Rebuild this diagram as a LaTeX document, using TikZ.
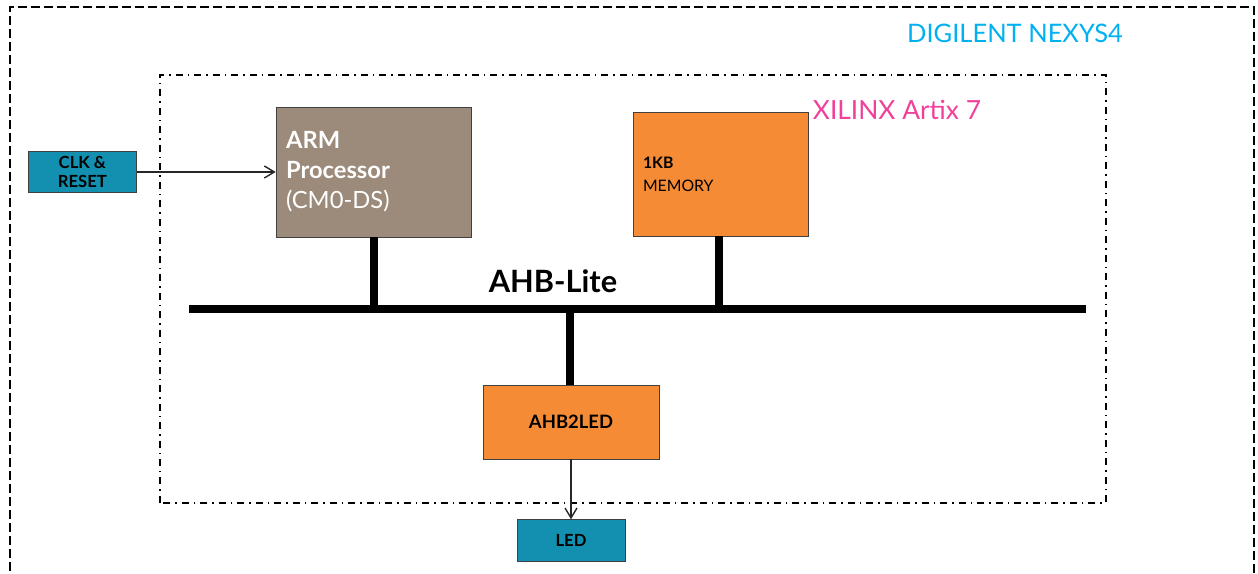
\documentclass[tikz,border=0pt]{standalone}
\usepackage{fontspec}
\setmainfont{Lato}
\usepackage{xcolor}
\usetikzlibrary{arrows.meta, positioning, calc}

\definecolor{armbrown}{HTML}{9C8A7A}
\definecolor{blockorange}{HTML}{F58B34}
\definecolor{ioteal}{HTML}{138FAF}
\definecolor{boardcyan}{HTML}{00B0F0}
\definecolor{fpgapink}{HTML}{F0409A}

\begin{document}
\begin{tikzpicture}[
    x=0.02cm, y=0.02cm,
    % Define specific node styles
    cpu_node/.style={rectangle, draw=black!75, fill=armbrown, text=white, minimum width=3.9cm, minimum height=2.6cm, text width=3.5cm, align=left, inner sep=0.2cm, font=\fontsize{13.5}{17}\selectfont},
    mem_node/.style={rectangle, draw=black!75, fill=blockorange, minimum width=3.5cm, minimum height=2.48cm, text width=3.1cm, align=left, inner sep=0.2cm, font=\fontsize{9}{13}\selectfont},
    periph_node/.style={rectangle, draw=black!75, fill=blockorange, minimum width=3.52cm, minimum height=1.48cm, align=center, font=\fontsize{10.5}{12}\selectfont\bfseries},
    io_node/.style={rectangle, draw=black!75, fill=ioteal, minimum width=2.16cm, minimum height=0.83cm, align=center, inner sep=0.05cm, font=\fontsize{9.5}{10.5}\selectfont\bfseries},
    board_box/.style={draw=black, line width=0.8pt, dash pattern=on 0.18cm off 0.08cm},
    fpga_box/.style={draw=black, line width=0.8pt, dash pattern=on 0.14cm off 0.1cm on 0.03cm off 0.1cm},
    bus_line/.style={line width=0.16cm, draw=black},
    arrow/.style={-{Straight Barb[length=0.2cm, width=0.24cm]}, line width=0.8pt, draw=black!85},
]
\useasboundingbox (0,0) rectangle (1258,574);

% Board and FPGA outlines
\draw[board_box] (10,-10) |- (1254,567) -- (1254,-10);
\draw[fpga_box] (160,71) rectangle (1106,499);
\node[text=boardcyan, font=\fontsize{14.5}{16}\selectfont] (board) at (1015,541) {DIGILENT NEXYS4};
\node[text=fpgapink, font=\fontsize{15}{17}\selectfont] (fpga) at (897,464) {XILINX Artix 7};

% Nodes
\node[cpu_node] (arm) at (373.5,402) {\textbf{ARM}\\\textbf{Processor}\\(CM0-DS)};
\node[mem_node] (mem) at (720.5,400) {\textbf{1KB}\\MEMORY};
\node[periph_node] (ahbled) at (571,152) {AHB2LED};
\node[io_node, below=1.2cm of ahbled] (led) {LED};
\node[io_node, left=2.78cm of arm] (clk) {CLK \&\\RESET};

% Bus
\coordinate (bus_l) at (189,265);
\coordinate (bus_r) at (1086,265);
\draw[bus_line] (bus_l) -- (bus_r);
\node[font=\fontsize{17.5}{20}\selectfont\bfseries] (buslabel) at (553,293) {AHB-Lite};

% Connections
\draw[bus_line] (arm.south) -- (arm.south |- bus_l);
\draw[bus_line] ([xshift=-0.03cm]mem.south) -- ([xshift=-0.03cm]mem.south |- bus_l);
\draw[bus_line] ([xshift=-0.02cm]ahbled.north) -- ([xshift=-0.02cm]ahbled.north |- bus_l);
\draw[arrow] (clk.east) -- (clk.east -| arm.west);
\draw[arrow] (ahbled.south) -- (led.north);

\end{tikzpicture}
\end{document}
